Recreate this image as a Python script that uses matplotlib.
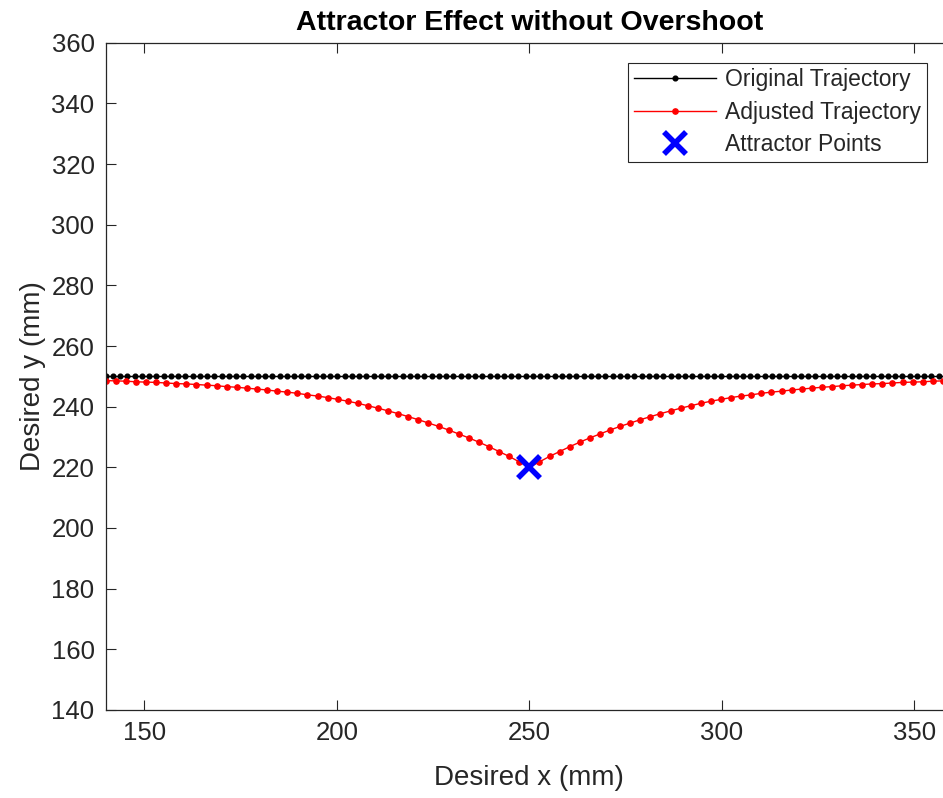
import numpy as np
import matplotlib
matplotlib.use("Agg")
import matplotlib.pyplot as plt

plt.rcParams['font.family'] = ['Liberation Sans', 'DejaVu Sans']

# ---- data ----
orig_x_start, orig_x_end, orig_n = 140, 360, 118
orig_y_level = 250
adj_x_start, adj_x_end = 140, 360
# adjusted trajectory y values, left to right, symmetric about x=250
adj_y_left = [248.6, 248.5, 248.4, 248.2, 248.1, 248.0, 247.8, 247.6, 247.5, 247.3,
              247.1, 246.9, 246.6, 246.4, 246.1, 245.8, 245.5, 245.1, 244.8, 244.4,
              243.9, 243.5, 243.0, 242.4, 241.8, 241.1, 240.3, 239.5, 238.6, 237.7,
              236.7, 235.7, 234.6, 233.5, 232.3, 231.0, 229.7, 228.3, 226.8, 225.2,
              223.6, 221.8]
adj_y_center = [220.0]
adj_y = adj_y_left + adj_y_center + adj_y_left[::-1]
attractor_x = [250]
attractor_y = [220]

orig_x = np.linspace(orig_x_start, orig_x_end, orig_n)
orig_y = np.full(orig_n, orig_y_level)
adj_x = np.linspace(adj_x_start, adj_x_end, len(adj_y))

xticks = [150, 200, 250, 300, 350]
yticks = list(range(140, 361, 20))

gray = (0.15, 0.15, 0.15)

fig = plt.figure(figsize=(9.43, 7.98), dpi=100)
ax = fig.add_axes([0.1121, 0.1103, 0.8985, 0.8362])

ax.plot(orig_x, orig_y, '-', color='black', lw=1.0, marker='o', ms=3.4,
        label='Original Trajectory')
ax.plot(adj_x, adj_y, '-', color='red', lw=1.0, marker='o', ms=3.8,
        label='Adjusted Trajectory')
ax.plot(attractor_x, attractor_y, 'x', color='blue', ms=16, mew=4,
        label='Attractor Points', zorder=5)

ax.set_xlim(140, 360)
ax.set_ylim(140, 360)
ax.set_xticks(xticks)
ax.set_yticks(yticks)
ax.tick_params(direction='in', length=7, width=0.8, colors=gray, labelsize=18.5,
               top=True, right=True, pad=8)
for s in ax.spines.values():
    s.set_color(gray)
    s.set_linewidth(0.9)

ax.set_xlabel('Desired x (mm)', fontsize=20, color=gray, labelpad=14)
ax.set_ylabel('Desired y (mm)', fontsize=20, color=gray, labelpad=4)
ax.set_title('Attractor Effect without Overshoot', fontsize=20.5, fontweight='bold',
             color='black', pad=9)

leg = ax.legend(loc='upper left', bbox_to_anchor=(0.6165, 0.97), fontsize=16.5,
                frameon=True, fancybox=False, edgecolor=gray, framealpha=1,
                handlelength=3.6, handletextpad=0.4, borderpad=0.25,
                labelspacing=0.4, borderaxespad=0)
leg.get_frame().set_linewidth(0.8)
for t in leg.get_texts():
    t.set_color(gray)

fig.savefig('out.png', dpi=100)
